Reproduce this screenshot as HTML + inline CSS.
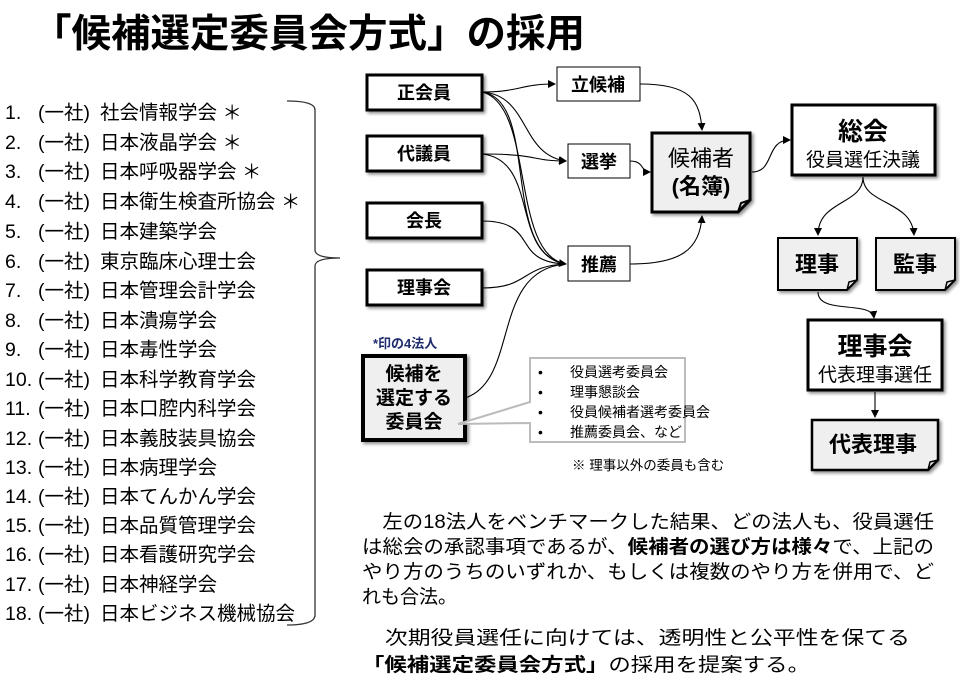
<!DOCTYPE html>
<html><head><meta charset="utf-8"><style>
body{margin:0;background:#fff}
svg{display:block;font-family:"Liberation Sans","Noto Sans CJK JP",sans-serif}
</style></head><body>
<svg width="960" height="691" viewBox="0 0 960 691" xmlns="http://www.w3.org/2000/svg">
<defs>
<marker id="a" markerWidth="8" markerHeight="8" refX="7" refY="4" orient="auto" markerUnits="userSpaceOnUse"><path d="M0,0 L8,4 L0,8 z" fill="#000"/></marker>
<filter id="s" x="-10%" y="-10%" width="130%" height="130%"><feDropShadow dx="2" dy="2" stdDeviation="1.5" flood-color="#000" flood-opacity="0.45"/></filter>
</defs>
<text x="32" y="47" font-size="39" font-weight="bold" textLength="553" lengthAdjust="spacingAndGlyphs">「候補選定委員会方式」の採用</text>

<g font-size="19.5" fill="#000">
<text x="5" y="119">1.</text><text x="5" y="149">2.</text><text x="5" y="178">3.</text><text x="5" y="208">4.</text><text x="5" y="238">5.</text><text x="5" y="268">6.</text><text x="5" y="297">7.</text><text x="5" y="327">8.</text><text x="5" y="356">9.</text>
<text x="5" y="386">10.</text><text x="5" y="415">11.</text><text x="5" y="445">12.</text><text x="5" y="474">13.</text><text x="5" y="503">14.</text><text x="5" y="532">15.</text><text x="5" y="561">16.</text><text x="5" y="591">17.</text><text x="5" y="620">18.</text>
<g>
<text x="38" y="119">(一社)</text><text x="38" y="149">(一社)</text><text x="38" y="178">(一社)</text><text x="38" y="208">(一社)</text><text x="38" y="238">(一社)</text><text x="38" y="268">(一社)</text><text x="38" y="297">(一社)</text><text x="38" y="327">(一社)</text><text x="38" y="356">(一社)</text><text x="38" y="386">(一社)</text><text x="38" y="415">(一社)</text><text x="38" y="445">(一社)</text><text x="38" y="474">(一社)</text><text x="38" y="503">(一社)</text><text x="38" y="532">(一社)</text><text x="38" y="561">(一社)</text><text x="38" y="591">(一社)</text><text x="38" y="620">(一社)</text>
</g>
<text x="100" y="119">社会情報学会 ＊</text>
<text x="100" y="149">日本液晶学会 ＊</text>
<text x="100" y="178">日本呼吸器学会 ＊</text>
<text x="100" y="208">日本衛生検査所協会 ＊</text>
<text x="100" y="238">日本建築学会</text>
<text x="100" y="268">東京臨床心理士会</text>
<text x="100" y="297">日本管理会計学会</text>
<text x="100" y="327">日本潰瘍学会</text>
<text x="100" y="356">日本毒性学会</text>
<text x="100" y="386">日本科学教育学会</text>
<text x="100" y="415">日本口腔内科学会</text>
<text x="100" y="445">日本義肢装具協会</text>
<text x="100" y="474">日本病理学会</text>
<text x="100" y="503">日本てんかん学会</text>
<text x="100" y="532">日本品質管理学会</text>
<text x="100" y="561">日本看護研究学会</text>
<text x="100" y="591">日本神経学会</text>
<text x="100" y="620">日本ビジネス機械協会</text>
</g>
<path d="M287,101 Q315,101 315,110 L315,250 Q315,258 340,258 Q315,258 315,266 L315,615 Q315,625 287,625" fill="none" stroke="#333" stroke-width="1.3"/>

<g fill="none" stroke="#000" stroke-width="1.1">
<path d="M482,92 C520,92 520,84 555,84" marker-end="url(#a)"/>
<path d="M482,92 C530,95 520,155 566,161" marker-end="url(#a)"/>
<path d="M482,92 C540,100 500,255 566,264" marker-end="url(#a)"/>
<path d="M482,92 C535,105 510,255 566,264"/>
<path d="M482,154 C540,154 530,161 566,161" marker-end="url(#a)"/>
<path d="M482,154 C540,160 510,255 566,264"/>
<path d="M482,221 C540,221 510,262 566,264"/>
<path d="M482,288 C530,288 520,266 566,264"/>
<path d="M465,398 C520,380 490,270 566,264"/>
<path d="M640,84 C690,84 700,100 702,130" marker-end="url(#a)"/>
<path d="M630,161 C645,161 640,172 650,172" marker-end="url(#a)"/>
<path d="M630,264 C680,264 700,250 702,216" marker-end="url(#a)"/>
<path d="M752,172 C775,172 765,140 790,140" marker-end="url(#a)"/>
<path d="M863,177 C863,205 818,200 818,235" marker-end="url(#a)"/>
<path d="M863,177 C863,205 912,200 914,235" marker-end="url(#a)"/>
<path d="M818,292 C818,315 872,300 874,318" marker-end="url(#a)"/>
<path d="M875,392 L875,417" marker-end="url(#a)"/>
</g>

<g filter="url(#s)" stroke="#000" stroke-width="3" fill="#fff">
<rect x="367" y="75" width="115" height="35"/>
<rect x="367" y="136" width="115" height="35"/>
<rect x="367" y="203" width="115" height="35"/>
<rect x="367" y="270" width="115" height="35"/>
<rect x="792" y="105" width="143" height="70"/>
<rect x="808" y="320" width="134" height="70"/>
<rect x="363" y="356" width="102" height="84" fill="#efefef" stroke-width="4"/>
<path d="M652,133 H750 V200 L738,212 H652 Z" fill="#efefef"/>
<path d="M778,238 H857 V280 L847,290 H778 Z" fill="#efefef" stroke-width="2"/>
<path d="M876,238 H955 V280 L945,290 H876 Z" fill="#efefef" stroke-width="2"/>
<path d="M812,420 H938 V460 L928,470 H812 Z" fill="#efefef" stroke-width="2.5"/>
</g>
<path d="M738,212 L741,203 L750,200" fill="none" stroke="#000" stroke-width="2"/>
<path d="M847,290 L849,282 L857,280" fill="none" stroke="#000" stroke-width="1.5"/>
<path d="M945,290 L947,282 L955,280" fill="none" stroke="#000" stroke-width="1.5"/>
<path d="M928,470 L930,462 L938,460" fill="none" stroke="#000" stroke-width="1.5"/>
<g fill="#fff" stroke="#000" stroke-width="1">
<rect x="557" y="67" width="83" height="34"/>
<rect x="568" y="144" width="62" height="34"/>
<rect x="568" y="246" width="62" height="35"/>
</g>
<path d="M530,358 H685 V442 H530 V423 L458,424 L530,402 Z" fill="#fff" stroke="#bbb" stroke-width="2"/>

<g font-weight="bold" text-anchor="middle" font-size="18">
<text x="424" y="99">正会員</text>
<text x="424" y="160">代議員</text>
<text x="424" y="227">会長</text>
<text x="424" y="294">理事会</text>
<text x="598" y="91">立候補</text>
<text x="599" y="168">選挙</text>
<text x="599" y="271">推薦</text>
<text x="701" y="166" font-size="22" font-weight="normal">候補者</text>
<text x="701" y="194" font-size="22">(名簿)</text>
<text x="863" y="140" font-size="25">総会</text>
<text x="863" y="166" font-size="19" font-weight="normal">役員選任決議</text>
<text x="817" y="272" font-size="22">理事</text>
<text x="915" y="272" font-size="22">監事</text>
<text x="875" y="355" font-size="25">理事会</text>
<text x="875" y="381" font-size="19" font-weight="normal">代表理事選任</text>
<text x="873" y="452" font-size="22">代表理事</text>
<text x="414" y="380" font-size="19">候補を</text>
<text x="414" y="404" font-size="19">選定する</text>
<text x="414" y="428" font-size="19">委員会</text>
</g>
<text x="373" y="348" font-size="13" font-weight="bold" fill="#1f2d6e">*印の4法人</text>
<g font-size="14">
<text x="538" y="377">•</text><text x="570" y="377">役員選考委員会</text>
<text x="538" y="397">•</text><text x="570" y="397">理事懇談会</text>
<text x="538" y="417">•</text><text x="570" y="417">役員候補者選考委員会</text>
<text x="538" y="437">•</text><text x="570" y="437">推薦委員会、など</text>
</g>
<text x="572" y="470" font-size="13.5">※ 理事以外の委員も含む</text>

<g font-size="19">
<text x="362" y="528" textLength="572" lengthAdjust="spacingAndGlyphs">　左の18法人をベンチマークした結果、どの法人も、役員選任</text>
<text x="362" y="553" textLength="572" lengthAdjust="spacingAndGlyphs">は総会の承認事項であるが、<tspan font-weight="bold">候補者の選び方は様々</tspan>で、上記の</text>
<text x="362" y="578" textLength="572" lengthAdjust="spacingAndGlyphs">やり方のうちのいずれか、もしくは複数のやり方を併用で、ど</text>
<text x="362" y="603">れも合法。</text>
<text x="362" y="644" textLength="548" lengthAdjust="spacingAndGlyphs">　次期役員選任に向けては、透明性と公平性を保てる</text>
<text x="362" y="671" textLength="448" lengthAdjust="spacingAndGlyphs"><tspan font-weight="bold">「候補選定委員会方式」</tspan>の採用を提案する。</text>
</g>
</svg>
</body></html>
